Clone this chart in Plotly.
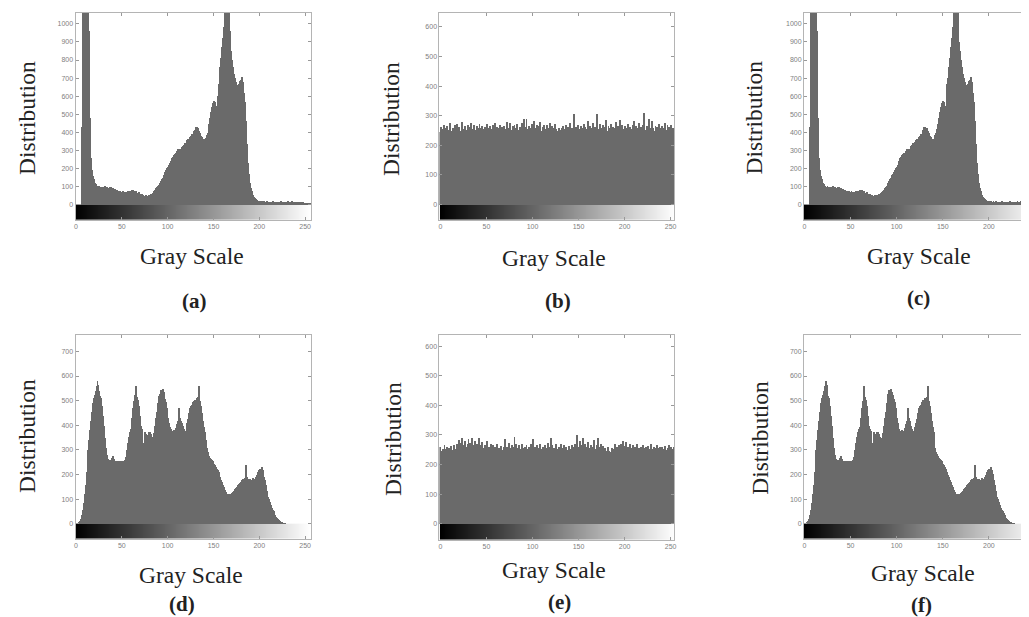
import plotly.graph_objects as go

# ---------------- data ----------------
gray_levels = list(range(256))

hist_a = [
    0, 0, 0, 0, 0, 0, 430, 1250, 1800, 2100, 1900, 1700, 1500, 1200, 960, 480,
    260, 190, 160, 140, 120, 112, 105, 100, 98, 104, 96, 100, 92, 98, 95, 102,
    90, 96, 94, 88, 97, 92, 100, 86, 90, 82, 85, 78, 80, 74, 78, 70,
    76, 72, 68, 74, 66, 72, 64, 70, 75, 68, 78, 72, 80, 74, 82, 76,
    70, 74, 66, 62, 68, 60, 56, 58, 52, 54, 50, 48, 52, 46, 50, 54,
    52, 60, 58, 66, 70, 78, 82, 90, 96, 102, 110, 120, 128, 140, 150, 162,
    172, 180, 192, 200, 210, 222, 230, 242, 256, 265, 272, 280, 288, 278, 296, 305,
    292, 310, 302, 318, 325, 332, 340, 336, 348, 355, 362, 358, 372, 380, 388, 392,
    405, 415, 428, 432, 418, 425, 408, 395, 380, 372, 365, 360, 362, 370, 385, 398,
    420, 445, 480, 515, 540, 560, 575, 568, 545, 535, 600, 665, 700, 760, 810, 870,
    920, 980, 1080, 1150, 1200, 1120, 1070, 960, 900, 850, 800, 760, 720, 700, 680, 662,
    655, 668, 683, 690, 700, 705, 680, 620, 570, 460, 335, 230, 170, 120, 94, 78,
    62, 52, 44, 36, 31, 26, 22, 20, 18, 16, 20, 15, 17, 19, 14, 16,
    18, 15, 13, 17, 16, 14, 18, 15, 12, 16, 14, 17, 15, 13, 16, 18,
    14, 15, 12, 16, 17, 13, 15, 18, 16, 14, 17, 19, 15, 13, 16, 12,
    14, 11, 13, 15, 12, 10, 12, 14, 11, 9, 10, 8, 7, 6, 5, 4,
]

hist_b = [
    245, 262, 238, 255, 270, 248, 232, 258, 266, 241, 252, 275, 247, 236, 260, 253,
    268, 244, 257, 272, 240, 262, 250, 235, 278, 256, 246, 264, 251, 239, 270, 258,
    247, 262, 276, 241, 255, 268, 252, 244, 265, 230, 259, 271, 248, 257, 266, 240,
    254, 263, 245, 272, 238, 258, 267, 249, 256, 243, 269, 252, 275, 246, 261, 239,
    257, 270, 248, 263, 252, 241, 266, 255, 247, 280, 260, 244, 274, 251, 238, 265,
    256, 268, 242, 259, 271, 246, 253, 262, 238, 277, 250, 288, 263, 245, 290, 255,
    248, 266, 257, 240, 272, 252, 283, 246, 260, 269, 244, 255, 264, 278, 250, 242,
    262, 270, 247, 256, 268, 243, 259, 274, 251, 239, 265, 257, 246, 272, 254, 248,
    241, 260, 252, 245, 258, 244, 266, 250, 255, 270, 247, 262, 253, 275, 249, 259,
    246, 268, 305, 252, 263, 240, 270, 256, 248, 265, 258, 244, 272, 251, 262, 247,
    255, 281, 249, 266, 258, 242, 276, 253, 262, 248, 270, 306, 255, 246, 273, 260,
    252, 268, 244, 262, 285, 250, 240, 266, 257, 247, 271, 254, 263, 245, 259, 278,
    250, 264, 244, 286, 258, 249, 270, 255, 242, 267, 260, 251, 273, 247, 262, 256,
    244, 268, 258, 282, 250, 265, 246, 259, 276, 252, 263, 248, 270, 256, 310, 253,
    247, 266, 254, 290, 260, 245, 284, 257, 250, 240, 265, 255, 262, 248, 272, 258,
    251, 266, 244, 260, 275, 253, 248, 270, 257, 262, 246, 268, 255, 259, 250, 263,
]

# (c) is visually identical to (a)
hist_c = list(hist_a)

hist_d = [
    0, 0, 2, 6, 12, 22, 35, 55, 85, 120, 160, 210, 258, 300, 340, 380,
    420, 455, 490, 510, 525, 540, 560, 582, 565, 540, 520, 510, 480, 440, 400, 350,
    310, 280, 265, 262, 258, 262, 255, 268, 278, 265, 256, 254, 255, 253, 255, 252,
    254, 253, 255, 252, 254, 260, 272, 300, 330, 355, 375, 385, 395, 430, 470, 500,
    525, 560, 515, 505, 480, 440, 400, 386, 378, 330, 300, 372, 365, 358, 362, 372,
    375, 365, 355, 348, 345, 370, 400, 430, 455, 490, 520, 530, 545, 542, 548, 535,
    525, 508, 495, 470, 430, 410, 395, 385, 378, 375, 380, 372, 376, 390, 405, 420,
    470, 430, 420, 412, 400, 385, 372, 378, 395, 410, 426, 450, 470, 480, 485, 495,
    500, 505, 502, 510, 505, 515, 562, 500, 480, 450, 420, 395, 372, 340, 310, 292,
    284, 278, 270, 265, 262, 255, 245, 238, 230, 225, 218, 210, 200, 190, 178, 170,
    160, 150, 140, 130, 122, 118, 120, 116, 118, 122, 125, 130, 136, 142, 148, 152,
    158, 162, 168, 170, 176, 180, 183, 178, 186, 240, 190, 182, 176, 183, 170, 180,
    176, 185, 172, 183, 190, 200, 210, 218, 222, 225, 230, 220, 205, 190, 180, 160,
    135, 110, 100, 88, 76, 66, 58, 52, 44, 36, 30, 24, 20, 15, 11, 8,
    5, 3, 2, 1, 0, 0, 0, 0, 0, 0, 0, 0, 0, 0, 0, 0,
    0, 0, 0, 0, 0, 0, 0, 0, 0, 0, 0, 0, 0, 0, 0, 0,
]

hist_e = [
    262, 248, 215, 255, 240, 266, 252, 230, 260, 245, 258, 238, 263, 250, 244, 268,
    255, 240, 262, 270, 248, 285, 258, 275, 290, 268, 252, 282, 260, 215, 270, 288,
    262, 275, 250, 292, 268, 255, 280, 246, 272, 260, 290, 252, 266, 240, 278, 258,
    245, 268, 255, 282, 250, 262, 240, 272, 256, 248, 266, 235, 260, 252, 270, 245,
    258, 242, 265, 250, 238, 262, 255, 288, 246, 260, 252, 275, 240, 256, 268, 245,
    262, 294, 250, 270, 258, 240, 266, 252, 245, 272, 256, 238, 262, 250, 268, 255,
    244, 260, 252, 270, 248, 286, 256, 262, 240, 266, 250, 258, 232, 272, 254, 246,
    262, 250, 268, 242, 256, 275, 248, 260, 252, 290, 266, 245, 258, 240, 270, 255,
    248, 262, 256, 270, 244, 258, 252, 266, 240, 260, 250, 238, 264, 255, 246, 268,
    252, 260, 245, 272, 256, 300, 262, 250, 282, 268, 246, 290, 258, 270, 252, 262,
    246, 276, 258, 250, 268, 240, 262, 284, 254, 248, 266, 256, 292, 260, 245, 270,
    252, 264, 240, 258, 248, 232, 262, 255, 246, 242, 238, 258, 252, 244, 270, 250,
    262, 246, 268, 255, 260, 272, 250, 282, 265, 258, 276, 248, 262, 255, 270, 243,
    258, 250, 266, 245, 262, 254, 270, 240, 258, 246, 262, 252, 268, 244, 256, 250,
    260, 242, 264, 252, 248, 270, 255, 245, 262, 240, 258, 250, 266, 243, 256, 262,
    248, 260, 252, 245, 264, 250, 240, 258, 254, 266, 247, 260, 252, 244, 262, 255,
]

# (f) is visually identical to (d)
hist_f = list(hist_d)

panel_labels = ["(a)", "(b)", "(c)", "(d)", "(e)", "(f)"]
x_title = "Gray Scale"
y_title = "Distribution"
x_tick_vals = [0, 50, 100, 150, 200, 250]
y_ticks_a = list(range(0, 1001, 100))
y_ticks_b = list(range(0, 601, 100))
y_ticks_d = list(range(0, 701, 100))
y_ticks_e = list(range(0, 601, 100))

# ---------------- layout geometry (pixels) ----------------
W, H = 1029, 617


def fx(p):
    return p / W


def fy(p):
    return 1 - p / H


panels = [
    dict(hist=hist_a, ticks=y_ticks_a, yr=(-85, 1060), xr=(-0.5, 256.5),
         xd=(66.7, 303), yd=(5, 212), yt=(18, 110), xt=(183.5, 248), lb=(186, 293)),
    dict(hist=hist_b, ticks=y_ticks_b, yr=(-52, 647), xr=(-1, 254),
         xd=(431.7, 667.3), yd=(5, 212), yt=(383, 111), xt=(547, 250), lb=(551, 293)),
    dict(hist=hist_c, ticks=y_ticks_a, yr=(-85, 1060), xr=(-0.5, 250),
         xd=(797.3, 1029), yd=(5, 212), yt=(746.7, 110), xt=(912.5, 248), lb=(912, 290)),
    dict(hist=hist_d, ticks=y_ticks_d, yr=(-61, 768), xr=(-0.5, 256.5),
         xd=(66.7, 303), yd=(326.7, 530.7), yt=(18, 428), xt=(183, 566.7), lb=(174, 596)),
    dict(hist=hist_e, ticks=y_ticks_e, yr=(-54, 639), xr=(-1, 254),
         xd=(431.7, 667.3), yd=(326.7, 531.7), yt=(385, 431), xt=(547, 561.7), lb=(552, 594)),
    dict(hist=hist_f, ticks=y_ticks_d, yr=(-61, 768), xr=(-0.5, 250),
         xd=(797.3, 1029), yd=(326.7, 530.7), yt=(753, 430), xt=(916.5, 565), lb=(915, 597)),
]

BAR_COLOR = "#6a6a6a"
FRAME = "#b4b4b4"
TICKFONT = dict(family="Liberation Sans, Arial, sans-serif", size=7, color="#808080")
SERIF = "Liberation Serif, Times New Roman, serif"

fig = go.Figure()
layout = {}
annotations = []

edges = [g - 0.5 for g in gray_levels] + [gray_levels[-1] + 0.5]

for i, p in enumerate(panels, start=1):
    xa = "x" if i == 1 else f"x{i}"
    ya = "y" if i == 1 else f"y{i}"
    xkey = "xaxis" if i == 1 else f"xaxis{i}"
    ykey = "yaxis" if i == 1 else f"yaxis{i}"

    # gray-scale strip below the zero line
    fig.add_trace(go.Heatmap(
        x=edges, y=[p["yr"][0], 0], z=[gray_levels],
        colorscale=[[0, "#000000"], [1, "#ffffff"]], zmin=0, zmax=255,
        showscale=False, hoverinfo="skip", xaxis=xa, yaxis=ya,
    ))
    fig.add_trace(go.Bar(
        x=gray_levels, y=p["hist"], width=1.0,
        marker=dict(color=BAR_COLOR, line=dict(width=0)),
        showlegend=False, xaxis=xa, yaxis=ya,
    ))

    layout[xkey] = dict(
        domain=[fx(p["xd"][0]), min(1.0, fx(p["xd"][1]))],
        range=list(p["xr"]), anchor=ya,
        tickmode="array", tickvals=x_tick_vals,
        ticks="inside", ticklen=3, tickcolor="#999999",
        showline=True, linecolor=FRAME, linewidth=1, mirror="ticks",
        showgrid=False, zeroline=False, tickfont=TICKFONT,
    )
    layout[ykey] = dict(
        domain=[fy(p["yd"][1]), fy(p["yd"][0])],
        range=list(p["yr"]), anchor=xa,
        tickmode="array", tickvals=p["ticks"],
        ticks="inside", ticklen=3, tickcolor="#999999",
        showline=True, linecolor=FRAME, linewidth=1, mirror="ticks",
        showgrid=False, zeroline=False, tickfont=TICKFONT,
    )

    annotations.append(dict(
        text=y_title, x=fx(p["yt"][0]), y=fy(p["yt"][1]), xref="paper", yref="paper",
        textangle=-90, showarrow=False, xanchor="center", yanchor="middle",
        font=dict(family=SERIF, size=23.5, color="#222222"),
    ))
    annotations.append(dict(
        text=x_title, x=fx(p["xt"][0]), y=fy(p["xt"][1]), xref="paper", yref="paper",
        showarrow=False, xanchor="center", yanchor="middle",
        font=dict(family=SERIF, size=23.5, color="#222222"),
    ))
    annotations.append(dict(
        text="<b>" + panel_labels[i - 1] + "</b>", x=fx(p["lb"][0]), y=fy(p["lb"][1]),
        xref="paper", yref="paper", showarrow=False, xanchor="center", yanchor="middle",
        font=dict(family=SERIF, size=21, color="#222222"),
    ))

fig.update_layout(
    width=W, height=H,
    margin=dict(l=0, r=0, t=0, b=0),
    paper_bgcolor="white", plot_bgcolor="white",
    bargap=0, showlegend=False,
    annotations=annotations,
    **layout,
)

fig.write_html("out.html")
